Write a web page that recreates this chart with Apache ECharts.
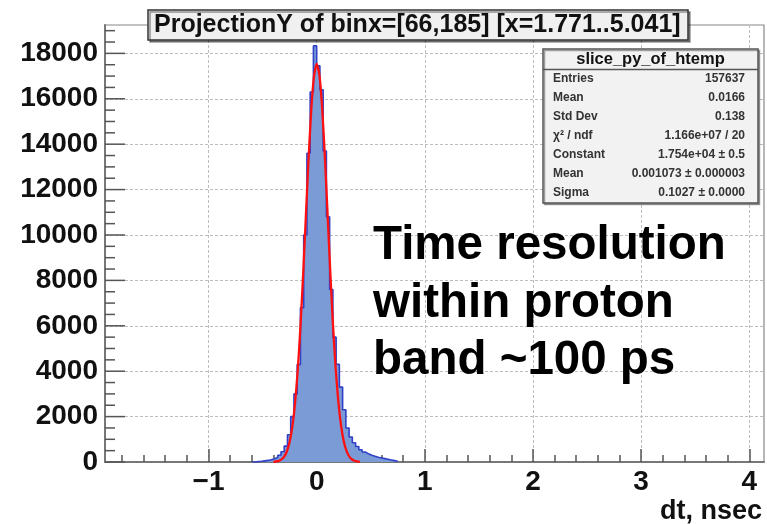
<!DOCTYPE html>
<html><head><meta charset="utf-8">
<script src="https://cdn.jsdelivr.net/npm/echarts@6/dist/echarts.min.js"></script>
<style>html,body{margin:0;padding:0;background:#fff}#c{width:767px;height:524px}</style>
</head><body><div id="c"></div>
<script>
const titleText = 'ProjectionY of binx=[66,185] [x=1.771..5.041]';
const xAxisTitle = 'dt, nsec';
const binStart = -0.60;
const binWidth = 0.03;
const binCounts = [0,15,30,50,70,100,140,200,300,450,
  700,1200,2000,3000,4300,6800,10000,13600,16300,18330,
  17450,16400,13700,10800,7600,5500,4300,3300,2300,1500,
  1100,850,680,540,440,360,300,250,210,180,
  150,120,90,60,30];
const fitX = [-0.4,-0.375,-0.35,-0.325,-0.3,-0.275,-0.25,-0.225,-0.2,-0.175,
  -0.15,-0.125,-0.1,-0.075,-0.05,-0.025,0,0.025,0.05,0.075,
  0.1,0.125,0.15,0.175,0.2,0.225,0.25,0.275,0.3,0.325,
  0.35,0.375,0.4];
const fitY = [9,22,51,114,239,474,884,1556,2584,4038,
  5951,8263,10817,13337,15505,16987,17539,17067,15653,13531,
  11022,8461,6123,4175,2684,1626,928,500,253,121,
  54,24,10];
const xMajorTicks = [-1,0,1,2,3,4];
const xMinorTicks = [-1.8,-1.6,-1.4,-1.2,-0.8,-0.6,-0.4,-0.2,0.2,0.4,0.6,0.8,
  1.2,1.4,1.6,1.8,2.2,2.4,2.6,2.8,3.2,3.4,3.6,3.8];
const yMajorTicks = [0,2000,4000,6000,8000,10000,12000,14000,16000,18000];
const yMinorTicks = [500,1000,1500,2500,3000,3500,4500,5000,5500,6500,7000,7500,
  8500,9000,9500,10500,11000,11500,12500,13000,13500,14500,15000,15500,
  16500,17000,17500,18500,19000];
const statsTitle = 'slice_py_of_htemp';
const statsLabels = ['Entries','Mean','Std Dev','\u03C7\u00B2 / ndf','Constant','Mean','Sigma'];
const statsValues = ['157637','0.0166','0.138','1.166e+07 / 20','1.754e+04 \u00B1 0.5','0.001073 \u00B1 0.000003','0.1027 \u00B1 0.0000'];
const annotationLines = ['Time resolution','within proton','band ~100 ps'];

const X_MIN = -1.957, X_MAX = 4.136, Y_MAX = 19250;
const FONT = '"Liberation Sans", Arial, Helvetica, sans-serif';

const histData = binCounts.map((v, i) => [binStart + i * binWidth, v]);
histData.push([binStart + binCounts.length * binWidth, 0]);
const fitData = fitX.map((x, i) => [x, fitY[i]]);

const chart = echarts.init(document.getElementById('c'), null, {renderer: 'canvas'});

function yTickSeries(values, len) {
  return {
    type: 'custom', coordinateSystem: 'cartesian2d', xAxisIndex: 0, yAxisIndex: 0,
    data: values.map(v => [X_MIN, v]), clip: false, silent: true, z: 6,
    encode: {x: 0, y: 1},
    renderItem: (params, api) => {
      const p = api.coord([api.value(0), api.value(1)]);
      return {type: 'line', shape: {x1: p[0], y1: p[1], x2: p[0] + len, y2: p[1]},
              style: {stroke: '#555', lineWidth: 1.5}};
    }
  };
}

const statsTop = 49, statsLeft = 543, statsW = 215, statsH = 154;
const statsGraphics = [
  {type: 'rect', shape: {x: statsLeft, y: statsTop, width: statsW, height: statsH},
   style: {fill: '#f2f2f2', stroke: '#555', lineWidth: 1.5, shadowColor: 'rgba(0,0,0,0.35)', shadowOffsetX: 1.5, shadowOffsetY: 1.5}, z: 100},
  {type: 'line', shape: {x1: statsLeft, y1: statsTop + 20.5, x2: statsLeft + statsW, y2: statsTop + 20.5},
   style: {stroke: '#555', lineWidth: 1.5}, z: 101},
  {type: 'text', x: statsLeft + statsW / 2, y: statsTop + 10.5, z: 101,
   style: {text: statsTitle, font: 'bold 16.5px ' + FONT, fill: '#111', align: 'center', verticalAlign: 'middle'}}
];
statsLabels.forEach((lab, i) => {
  const yy = statsTop + 29.5 + i * 19;
  statsGraphics.push({type: 'text', x: statsLeft + 10, y: yy, z: 101,
    style: {text: lab, font: 'bold 12px ' + FONT, fill: '#333', align: 'left', verticalAlign: 'middle'}});
  statsGraphics.push({type: 'text', x: statsLeft + statsW - 13, y: yy, z: 101,
    style: {text: statsValues[i], font: 'bold 12px ' + FONT, fill: '#333', align: 'right', verticalAlign: 'middle'}});
});

const annot = annotationLines.map((t, i) => ({
  type: 'text', x: 373, y: 222 + i * 57.5, z: 90,
  style: {text: t, font: 'bold 47.5px ' + FONT, fill: '#000', align: 'left', verticalAlign: 'top'}
}));

const option = {
  backgroundColor: '#ffffff',
  animation: false,
  title: {
    text: titleText, left: 148, top: 10,
    padding: [1, 8, 1, 6],
    backgroundColor: '#f0f0f0', borderColor: '#333', borderWidth: 1.5,
    shadowColor: 'rgba(0,0,0,0.4)', shadowOffsetX: 2, shadowOffsetY: 2, shadowBlur: 0,
    textStyle: {fontFamily: FONT, fontWeight: 'bold', fontSize: 25, color: '#111', lineHeight: 28}
  },
  grid: {left: 105, top: 25, right: 3, bottom: 62, show: true, borderColor: '#888', borderWidth: 1.2,
         backgroundColor: 'transparent', containLabel: false, outerBoundsMode: 'none'},
  xAxis: [
    {type: 'value', min: X_MIN, max: X_MAX, position: 'bottom',
     name: xAxisTitle, nameLocation: 'end', nameGap: -2,
     nameTextStyle: {fontFamily: FONT, fontWeight: 'bold', fontSize: 27, color: '#111', align: 'right', verticalAlign: 'top', padding: [36, 0, 0, 0]},
     axisLine: {show: true, onZero: false, lineStyle: {color: '#777', width: 2}},
     axisTick: {show: true, inside: true, length: 13, customValues: xMajorTicks, lineStyle: {color: '#555', width: 1.5}},
     axisLabel: {show: true, customValues: xMajorTicks, margin: 6, fontFamily: FONT, fontWeight: 'bold', fontSize: 28, color: '#111',
       formatter: v => (v < 0 ? '\u2212' + Math.abs(v) : String(v))},
     splitLine: {show: true, lineStyle: {color: '#bdbdbd', width: 1, type: [3, 2]}},
     minorTick: {show: false}},
    {type: 'value', min: X_MIN, max: X_MAX, position: 'bottom', gridIndex: 0,
     axisLine: {show: false},
     axisTick: {show: true, inside: true, length: 7, customValues: xMinorTicks, lineStyle: {color: '#555', width: 1.5}},
     axisLabel: {show: false}, splitLine: {show: false}}
  ],
  yAxis: [
    {type: 'value', min: 0, max: Y_MAX, interval: 2000, position: 'left',
     axisLine: {show: true, onZero: false, lineStyle: {color: '#777', width: 2}},
     axisTick: {show: false, customValues: yMajorTicks},
     axisLabel: {show: true, customValues: yMajorTicks, margin: 7, fontFamily: FONT, fontWeight: 'bold', fontSize: 28, color: '#111',
       formatter: v => String(v)},
     splitLine: {show: true, lineStyle: {color: '#bdbdbd', width: 1, type: [3, 2]}}}
  ],
  series: [
    {type: 'line', name: 'hist', xAxisIndex: 0, yAxisIndex: 0, data: histData, step: 'end',
     symbol: 'none', lineStyle: {color: '#3040c8', width: 1.6},
     areaStyle: {color: '#7b9bd6', opacity: 1, origin: 'start'}, z: 3, silent: true},
    {type: 'line', name: 'fit', xAxisIndex: 0, yAxisIndex: 0, data: fitData, smooth: 0.2,
     symbol: 'none', lineStyle: {color: '#ff1010', width: 2.3}, z: 4, silent: true},
    yTickSeries(yMajorTicks, 20),
    yTickSeries(yMinorTicks, 10)
  ],
  graphic: statsGraphics.concat(annot)
};
chart.setOption(option);
</script></body></html>
